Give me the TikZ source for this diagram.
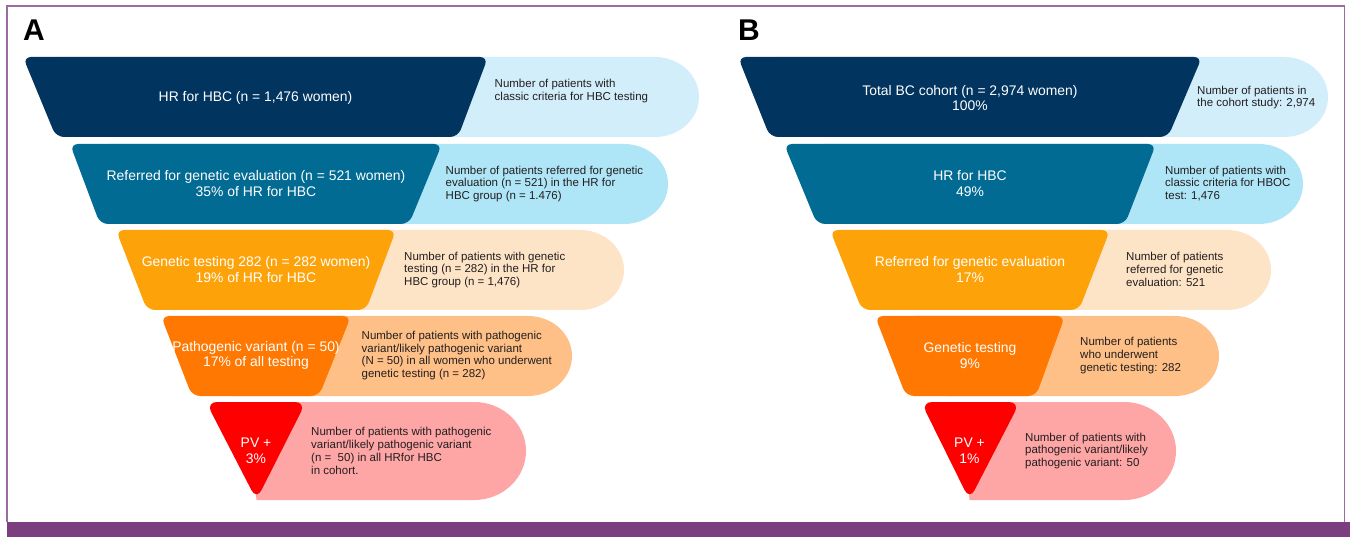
\documentclass[tikz,border=0pt]{standalone}
\usepackage{fontspec}
\setmainfont{Liberation Sans}
\definecolor{navy}{HTML}{01345F}
\definecolor{lblueA}{HTML}{D2EEFB}
\definecolor{teal}{HTML}{016B93}
\definecolor{lblueB}{HTML}{AEE5F7}
\definecolor{amber}{HTML}{FDA309}
\definecolor{beige}{HTML}{FEE4C7}
\definecolor{dorange}{HTML}{FE7802}
\definecolor{peach}{HTML}{FEC086}
\definecolor{vred}{HTML}{FE0000}
\definecolor{pink}{HTML}{FEA5A5}
\definecolor{purplebar}{HTML}{7B3E80}
\definecolor{purpleline}{HTML}{9C6CA0}
\definecolor{desctext}{HTML}{231F20}
\tikzset{
  maintext/.style={text=white, align=center, inner sep=0pt, font=\fontsize{13.9}{15.6}\selectfont},
  desctxt/.style={text=desctext, align=left, anchor=west, inner sep=0pt, font=\fontsize{11.5}{12.9}\selectfont},
  panellabel/.style={anchor=north west, inner sep=0pt, font=\fontsize{30}{30}\selectfont\bfseries},
  funnelshape/.style={rounded corners=8pt}
}
% #1 xTL, #2 xTR, #3 xBL, #4 xBR, #5 top, #6 bottom, #7 pill right, #8 dark, #9 light
\newcommand{\funnelrow}[9]{%
  \fill[#9] (#1+40,#5) -- ({#7-44},#5) arc[start angle=90, end angle=-90, x radius=44pt, y radius={(#6-#5)/2*1pt}] -- (#3+40,#6) -- cycle;
  \fill[#8, funnelshape] (#1,#5) -- (#2,#5) -- (#4,#6) -- (#3,#6) -- cycle;
}
\newcommand{\funneltri}[8]{%
  % #1 xTL, #2 xTR, #3 xB, #4 top, #5 bottom, #6 pill right, #7 dark, #8 light
  \fill[#8] (#1+40,#4) -- ({#6-52},#4) arc[start angle=90, end angle=-90, x radius=52pt, y radius={(#5-#4)/2*1pt}] -- (#3,#5) -- cycle;
  \fill[#7, rounded corners=11pt] (#1,#4) -- (#2,#4) -- (#3,#5) -- cycle;
}
\begin{document}
\begin{tikzpicture}[x=1pt,y=-1pt]
\useasboundingbox (0,0) rectangle (1350,537);
\fill[white] (0,0) rectangle (1350,537);
% frame and bar
\draw[purpleline, line width=1.3pt] (7,522) -- (7,6) -- (1344.5,6) -- (1344.5,522);
\fill[purplebar] (6.5,522) rectangle (1350,537);

% Panel A
\node[panellabel] (labA) at (23,20) {A};
\funnelrow{23}{488}{56}{458}{57}{137}{699}{navy}{lblueA}
\funnelrow{70}{442}{100}{409}{144}{224}{668}{teal}{lblueB}
\funnelrow{116}{396}{147}{366}{230}{310}{624}{amber}{beige}
\funnelrow{161}{351}{192}{319}{316}{396}{572}{dorange}{peach}
\funneltri{206}{306}{256.5}{402}{500}{526}{vred}{pink}

\node[maintext] (a1) at (255.5,97.5) {HR for HBC (n = 1,476 women)};
\node[maintext] (a2) at (256,183.5) {Referred for genetic evaluation (n = 521 women)\\35\% of HR for HBC};
\node[maintext] (a3) at (256,269.5) {Genetic testing 282 (n = 282 women)\\19\% of HR for HBC};
\node[maintext] (a4) at (256,355.5) {Pathogenic variant (n = 50)\\17\% of all testing};
\node[maintext] (a5) at (256,451) {PV +\\3\%};

\node[desctxt] (da1) at (494.5,91) {Number of patients with\\classic criteria for HBC testing};
\node[desctxt] (da2) at (445.5,184) {Number of patients referred for genetic\\evaluation (n = 521) in the HR for\\HBC group (n = 1.476)};
\node[desctxt] (da3) at (404,270) {Number of patients with genetic\\testing (n = 282) in the HR for\\HBC group (n = 1,476)};
\node[desctxt] (da4) at (361.5,355.5) {Number of patients with pathogenic\\variant/likely pathogenic variant\\(N = 50) in all women who underwent\\genetic testing (n = 282)};
\node[desctxt] (da5) at (311,451) {Number of patients with pathogenic\\variant/likely pathogenic variant\\(n =\ \ 50) in all HRfor HBC\\in cohort.};

% Panel B
\node[panellabel] (labB) at (738,20) {B};
\funnelrow{738}{1202}{770}{1168}{57}{137}{1328}{navy}{lblueA}
\funnelrow{784}{1156}{817}{1125}{144}{224}{1303}{teal}{lblueB}
\funnelrow{830}{1110}{862}{1079}{230}{310}{1271}{amber}{beige}
\funnelrow{875}{1065}{906}{1036}{316}{396}{1219}{dorange}{peach}
\funneltri{921}{1020}{969.5}{402}{500}{1176}{vred}{pink}

\node[maintext] (b1) at (970,98) {Total BC cohort (n = 2,974 women)\\100\%};
\node[maintext] (b2) at (970,183.5) {HR for HBC\\49\%};
\node[maintext] (b3) at (970,269.5) {Referred for genetic evaluation\\17\%};
\node[maintext] (b4) at (970,355.5) {Genetic testing\\9\%};
\node[maintext] (b5) at (969.5,451) {PV +\\1\%};

\node[desctxt] (db1) at (1197,97.5) {Number of patients in\\the cohort study: 2,974};
\node[desctxt] (db2) at (1165,183.5) {Number of patients with\\classic criteria for HBOC\\test: 1,476};
\node[desctxt] (db3) at (1126,269.5) {Number of patients\\referred for genetic\\evaluation: 521};
\node[desctxt] (db4) at (1080,355.5) {Number of patients\\who underwent\\genetic testing: 282};
\node[desctxt] (db5) at (1025,451) {Number of patients with\\pathogenic variant/likely\\pathogenic variant: 50};
\end{tikzpicture}
\end{document}
